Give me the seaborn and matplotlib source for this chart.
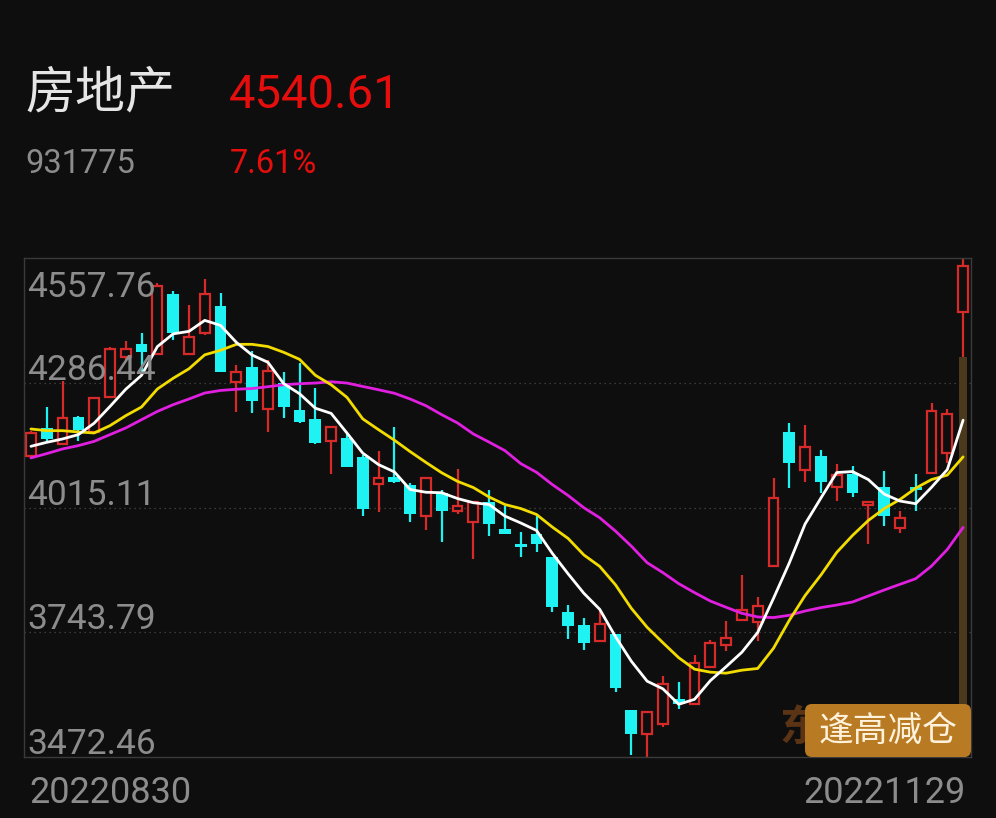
import numpy as np
import pandas as pd
import seaborn as sns
import matplotlib.pyplot as plt
from matplotlib.patches import FancyBboxPatch

# daily candles 2022-08-30 .. 2022-11-29 (60 sessions)
opens = [4128.0, 4188.8, 4154.0, 4212.7, 4180.1, 4256.0, 4342.9, 4371.1, 4349.4, 4479.6,
         4349.4, 4395.0, 4453.6, 4288.6, 4321.2, 4230.0, 4286.4, 4227.9, 4208.3, 4160.5,
         4167.1, 4125.8, 4067.2, 4082.4, 4065.0, 3995.6, 4047.7, 4006.5, 3982.6, 4026.0,
         3967.4, 3934.8, 3956.5, 3906.6, 3787.2, 3759.0, 3724.3, 3739.5, 3574.5, 3522.4,
         3544.1, 3598.4, 3587.5, 3667.9, 3715.6, 3769.9, 3765.5, 3887.1, 4180.1, 4097.6,
         4128.0, 4060.7, 4088.9, 4021.6, 4060.7, 3969.6, 4060.7, 4091.1, 4134.5, 4440.6]
highs = [4182.2, 4234.3, 4290.8, 4214.8, 4256.0, 4364.6, 4377.6, 4395.0, 4503.5, 4486.1,
         4455.7, 4512.2, 4481.8, 4325.5, 4355.9, 4336.4, 4310.3, 4329.9, 4275.6, 4190.9,
         4175.7, 4130.2, 4138.8, 4190.9, 4069.4, 4080.2, 4052.1, 4099.8, 4026.0, 4052.1,
         4017.3, 3960.9, 3995.6, 3906.6, 3802.4, 3774.2, 3789.4, 3739.5, 3574.5, 3570.2,
         3648.3, 3635.3, 3693.9, 3726.5, 3767.7, 3867.5, 3819.8, 4080.2, 4199.6, 4195.3,
         4141.0, 4110.6, 4106.3, 4030.3, 4095.4, 4006.5, 4088.9, 4243.1, 4230.0, 4557.76]
lows = [4123.6, 4156.2, 4151.9, 4160.5, 4180.1, 4256.0, 4336.4, 4310.3, 4349.4, 4379.8,
        4349.4, 4390.6, 4310.3, 4223.5, 4221.3, 4180.1, 4210.5, 4199.6, 4154.0, 4088.9,
        4104.1, 3995.6, 4004.3, 4069.4, 3982.6, 3965.2, 3939.2, 3999.9, 3902.3, 3952.2,
        3956.5, 3906.6, 3917.5, 3787.2, 3728.6, 3704.7, 3724.3, 3613.6, 3476.8, 3472.46,
        3537.6, 3576.7, 3587.5, 3667.9, 3702.6, 3769.9, 3724.3, 3887.1, 4058.5, 4071.5,
        4047.7, 4028.2, 4039.0, 3934.8, 3973.9, 3958.7, 4006.5, 4091.1, 4112.8, 4342.9]
closes = [4177.9, 4164.9, 4210.5, 4184.4, 4253.9, 4360.2, 4360.2, 4353.7, 4497.0, 4395.0,
          4386.3, 4479.6, 4310.3, 4310.3, 4247.4, 4312.5, 4234.3, 4201.8, 4156.2, 4190.9,
          4104.1, 4010.8, 4080.2, 4071.5, 3999.9, 4080.2, 4006.5, 4017.3, 4026.0, 3978.2,
          3956.5, 3928.3, 3934.8, 3798.1, 3756.8, 3719.9, 3761.2, 3622.3, 3522.4, 3570.2,
          3631.0, 3587.5, 3676.5, 3719.9, 3730.8, 3791.6, 3800.3, 4036.8, 4112.8, 4147.5,
          4071.5, 4086.7, 4047.7, 4026.0, 3995.6, 3991.3, 4054.2, 4225.7, 4219.5, 4540.61]

# moving-average lines as drawn in the chart
ma5 = [4148.2, 4156.9, 4164.2, 4173.6, 4198.5, 4234.8, 4272.3, 4302.7, 4365.0, 4392.8,
       4398.2, 4422.1, 4411.2, 4374.3, 4346.6, 4330.9, 4284.3, 4262.6, 4231.1, 4219.8,
       4177.2, 4133.4, 4108.4, 4092.6, 4054.2, 4048.3, 4047.2, 4034.6, 4025.5, 4021.6,
       3996.4, 3981.5, 3965.2, 3915.3, 3870.8, 3828.4, 3793.7, 3734.0, 3680.8, 3637.4,
       3620.7, 3587.1, 3597.9, 3638.5, 3668.9, 3700.4, 3743.4, 3817.6, 3894.6, 3979.3,
       4035.7, 4091.1, 4093.3, 4075.9, 4044.4, 4029.2, 4023.4, 4059.0, 4097.6, 4205.0]
ma10 = [4185.9, 4182.2, 4182.2, 4179.4, 4177.2, 4193.1, 4214.8, 4233.7, 4272.8, 4296.2,
        4316.8, 4347.2, 4357.0, 4370.0, 4370.0, 4365.2, 4352.6, 4337.4, 4302.7, 4282.1,
        4254.7, 4207.9, 4184.4, 4161.6, 4136.7, 4113.2, 4090.6, 4072.0, 4058.5, 4037.9,
        4021.6, 4012.9, 3999.9, 3972.6, 3947.8, 3911.8, 3887.0, 3846.9, 3795.9, 3754.6,
        3721.0, 3688.4, 3663.5, 3657.0, 3654.8, 3661.3, 3665.0, 3709.1, 3769.8, 3823.7,
        3868.2, 3917.4, 3954.3, 3986.9, 4012.5, 4032.5, 4057.2, 4075.9, 4085.6, 4125.2]
ma20 = [4123.0, 4132.3, 4142.5, 4149.7, 4159.0, 4173.6, 4188.1, 4206.1, 4224.1, 4238.7,
        4251.1, 4264.1, 4269.7, 4272.3, 4273.9, 4277.8, 4282.1, 4284.3, 4285.8, 4288.6,
        4285.8, 4278.4, 4271.2, 4263.6, 4251.1, 4236.5, 4217.0, 4199.0, 4175.1, 4157.3,
        4138.8, 4110.6, 4091.7, 4065.0, 4041.2, 4014.5, 3992.8, 3963.7, 3931.1, 3895.1,
        3873.4, 3849.5, 3830.0, 3811.7, 3798.1, 3785.0, 3777.0, 3775.7, 3780.7, 3790.0,
        3797.4, 3803.0, 3809.6, 3822.6, 3835.6, 3848.0, 3860.3, 3887.7, 3923.9, 3971.7]

y_labels = [4557.76, 4286.44, 4015.11, 3743.79, 3472.46]
date_labels = ["20220830", "20221129"]
name, code = "房地产", "931775"
last_price, pct_change = "4540.61", "7.61%"
signal = "逢高减仓"

BG = "#0e0e0e"
RED = "#d92a2a"
CYAN = "#1ef2f2"
GREY = "#8c8c8c"

sns.set_theme(style="dark", rc={"axes.facecolor": BG, "figure.facecolor": BG,
                                "axes.edgecolor": "#3a3a3a", "axes.linewidth": 1.0})
plt.rcParams["font.family"] = ["Roboto", "Noto Sans CJK SC", "DejaVu Sans"]

df = pd.DataFrame({"open": opens, "high": highs, "low": lows, "close": closes,
                   "ma5": ma5, "ma10": ma10, "ma20": ma20})
df["x"] = np.arange(len(df))
up = df["close"] >= df["open"]
df["top"] = df[["open", "close"]].max(axis=1)
df["bot"] = df[["open", "close"]].min(axis=1)
df["h"] = (df["top"] - df["bot"]).clip(lower=2.0)

W, H = 996, 818
fig = plt.figure(figsize=(W / 100, H / 100), dpi=100)
ax = fig.add_axes([24 / W, 1 - 757 / H, 947 / W, 499 / H])
ymin, ymax = y_labels[-1], y_labels[0]

# highlight bar under the last candle
last = df.iloc[-1]
ax.bar(last["x"], last["low"] - ymin, bottom=ymin, width=0.5, color="#4a391d",
       linewidth=0, edgecolor="none", zorder=1)

for v in y_labels[1:-1]:
    ax.axhline(v, color="#4a4a4a", lw=0.9, ls=(0, (1, 3)), zorder=0.5)

u, d = df[up], df[~up]
ax.vlines(u["x"], u["top"], u["high"], color=RED, lw=1.6, zorder=2)
ax.vlines(u["x"], u["low"], u["bot"], color=RED, lw=1.6, zorder=2)
ax.bar(u["x"], u["h"], bottom=u["bot"], width=0.62, facecolor=BG, edgecolor=RED,
       linewidth=1.6, zorder=2)
ax.vlines(d["x"], d["low"], d["high"], color=CYAN, lw=1.6, zorder=2)
ax.bar(d["x"], d["h"], bottom=d["bot"], width=0.74, color=CYAN, linewidth=0,
       edgecolor="none", zorder=2)

for col, c in [("ma20", "#e01fe0"), ("ma10", "#f2dc00"), ("ma5", "#ffffff")]:
    sns.lineplot(data=df, x="x", y=col, color=c, lw=2.0, ax=ax, zorder=3)

ax.set_xlim(-0.44, 59.5)
ax.set_ylim(ymin, ymax)
ax.set_xticks([])
ax.set_yticks([])
ax.set_xlabel("")
ax.set_ylabel("")
ax.grid(False)

# price labels inside the plot
for i, v in enumerate(y_labels):
    off = -39 if i == 0 else 3
    ax.annotate(f"{v:.2f}", xy=(0, v), xycoords=("axes fraction", "data"),
                xytext=(2.2, off * 0.72), textcoords="offset points",
                fontsize=25.5, color=GREY, va="baseline", ha="left", zorder=4)

# header
fig.text(25 / W, 1 - 107 / H, name, fontsize=36, color="#e6e6e6",
         family=["Noto Sans CJK SC"], va="baseline")
fig.text(229 / W, 1 - 108 / H, last_price, fontsize=34, color="#e60d0d", va="baseline")
fig.text(25 / W, 1 - 173 / H, code, fontsize=23.5, color=GREY, va="baseline")
fig.text(230 / W, 1 - 173 / H, pct_change, fontsize=23.5, color="#e60d0d", va="baseline")

fig.text(29 / W, 1 - 803 / H, date_labels[0], fontsize=26, color=GREY, va="baseline", ha="left")
fig.text(966 / W, 1 - 803 / H, date_labels[1], fontsize=26, color=GREY, va="baseline", ha="right")

# watermark (mostly hidden) and signal button
fig.text(780 / W, 1 - 727 / H, "东方财富", fontsize=30, color="#5a3414", fontweight="bold",
         family=["Noto Sans CJK SC"], va="center", ha="left", zorder=0.5)
btn = FancyBboxPatch((805 / W, 1 - 757 / H), 166 / W, 53 / H,
                     boxstyle="round,pad=0,rounding_size=0.007", mutation_aspect=W / H,
                     transform=fig.transFigure, facecolor="#b87b24", edgecolor="none", zorder=1)
fig.patches.append(btn)
fig.text(888 / W, 1 - 731 / H, signal, fontsize=25, color="#fff2dc",
         family=["Noto Sans CJK SC"], va="center", ha="center", zorder=2)

fig.savefig("out.png", dpi=100, facecolor=BG)
